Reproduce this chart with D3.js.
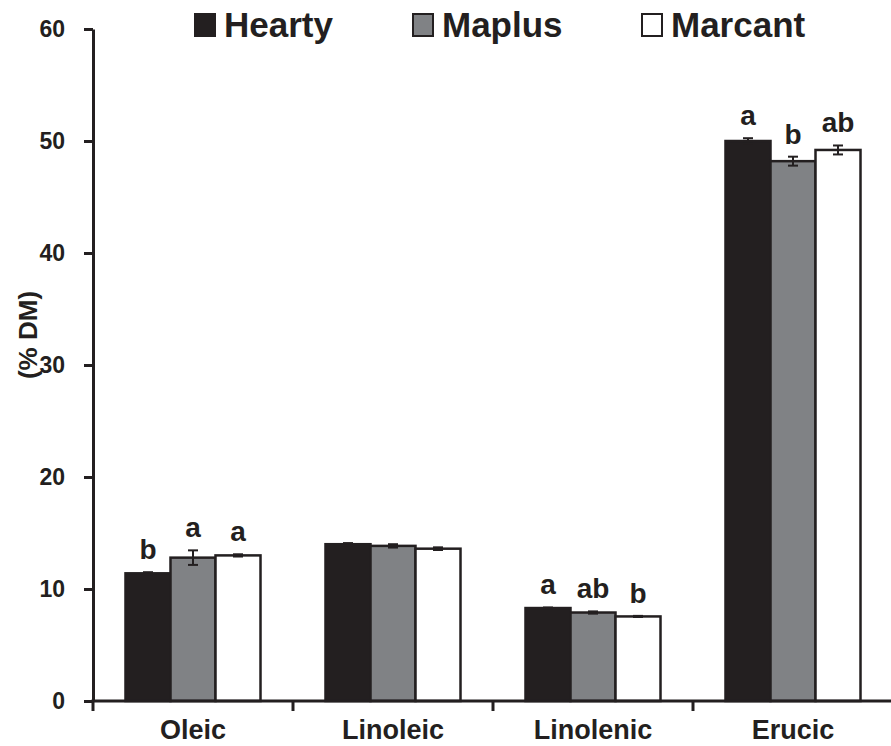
<!DOCTYPE html>
<html>
<head>
<meta charset="utf-8">
<script src="https://cdn.jsdelivr.net/npm/d3@7"></script>
<style>
  html, body { margin: 0; padding: 0; background: #fff; }
  svg { display: block; font-family: "Liberation Sans", Arial, sans-serif; }
</style>
</head>
<body>
<svg id="chart" width="891" height="746"></svg>
<script>
const categories = ["Oleic", "Linoleic", "Linolenic", "Erucic"];
const series = ["Hearty", "Maplus", "Marcant"];
const hearty = [11.4, 14.0, 8.3, 50.0];
const maplus = [12.8, 13.85, 7.9, 48.2];
const marcant = [13.0, 13.6, 7.55, 49.2];
const heartyErr = [0.1, 0.1, 0.05, 0.25];
const maplusErr = [0.65, 0.15, 0.1, 0.4];
const marcantErr = [0.1, 0.12, 0.05, 0.4];
const heartySig = ["b", "", "a", "a"];
const maplusSig = ["a", "", "ab", "b"];
const marcantSig = ["a", "", "b", "ab"];
const yTicks = [0, 10, 20, 30, 40, 50, 60];
const yLabel = "(% DM)";

const ink = "#231f20";
const colors = { Hearty: "#231f20", Maplus: "#808285", Marcant: "#ffffff" };

const values = { Hearty: hearty, Maplus: maplus, Marcant: marcant };
const errs = { Hearty: heartyErr, Maplus: maplusErr, Marcant: marcantErr };
const sigs = { Hearty: heartySig, Maplus: maplusSig, Marcant: marcantSig };

const svg = d3.select("#chart");

const y = d3.scaleLinear().domain([0, 60]).range([701, 29]);
const x0 = d3.scaleBand().domain(categories).range([93, 893]).paddingInner(0).paddingOuter(0);
const x1 = d3.scaleBand().domain(series).range([0, x0.bandwidth()]).paddingInner(0).paddingOuter(0.722);

const rows = [];
categories.forEach((c, i) => {
  series.forEach(s => {
    rows.push({ cat: c, s, v: values[s][i], e: errs[s][i], sig: sigs[s][i] });
  });
});

// Bars
svg.append("g").selectAll("rect").data(rows).join("rect")
  .attr("x", d => x0(d.cat) + x1(d.s))
  .attr("y", d => y(d.v))
  .attr("width", x1.bandwidth())
  .attr("height", d => y(0) - y(d.v))
  .attr("fill", d => colors[d.s])
  .attr("stroke", ink)
  .attr("stroke-width", 2.5);

// Error bars
const eg = svg.append("g").attr("stroke", ink).attr("stroke-width", 2);
rows.forEach(d => {
  const cx = x0(d.cat) + x1(d.s) + x1.bandwidth() / 2;
  const y1 = y(d.v + d.e), y2 = y(d.v - d.e);
  eg.append("line").attr("x1", cx).attr("x2", cx).attr("y1", y1).attr("y2", y2);
  eg.append("line").attr("x1", cx - 5).attr("x2", cx + 5).attr("y1", y1).attr("y2", y1);
  eg.append("line").attr("x1", cx - 5).attr("x2", cx + 5).attr("y1", y2).attr("y2", y2);
});

// Significance letters
svg.append("g").selectAll("text").data(rows.filter(d => d.sig)).join("text")
  .attr("x", d => x0(d.cat) + x1(d.s) + x1.bandwidth() / 2)
  .attr("y", d => y(d.v + d.e) - 13)
  .attr("text-anchor", "middle")
  .attr("font-size", 28)
  .attr("font-weight", "bold")
  .attr("fill", ink)
  .text(d => d.sig);

// Y axis
const yAxis = svg.append("g")
  .attr("transform", "translate(93,0)")
  .call(d3.axisLeft(y).tickValues(yTicks).tickSize(9).tickPadding(19).tickSizeOuter(0));
yAxis.select(".domain").attr("stroke", ink).attr("stroke-width", 3);
yAxis.selectAll(".tick line").attr("stroke", ink).attr("stroke-width", 3);
yAxis.selectAll(".tick text")
  .attr("font-size", 23).attr("font-weight", "bold").attr("fill", ink)
  .attr("font-family", "Liberation Sans, Arial, sans-serif");

// X axis
const xg = svg.append("g").attr("transform", "translate(0,701)");
xg.append("line").attr("x1", 91.5).attr("x2", 891).attr("y1", 0).attr("y2", 0)
  .attr("stroke", ink).attr("stroke-width", 3);
xg.selectAll("line.tk").data(categories).join("line").attr("class", "tk")
  .attr("x1", d => x0(d)).attr("x2", d => x0(d))
  .attr("y1", 0).attr("y2", 10)
  .attr("stroke", ink).attr("stroke-width", 3);
xg.selectAll("text").data(categories).join("text")
  .attr("x", d => x0(d) + x0.bandwidth() / 2)
  .attr("y", 38)
  .attr("text-anchor", "middle")
  .attr("font-size", 27)
  .attr("font-weight", "bold")
  .attr("fill", ink)
  .text(d => d);

// Y label
svg.append("text")
  .attr("transform", "translate(37,335) rotate(-90)")
  .attr("text-anchor", "middle")
  .attr("font-size", 26)
  .attr("font-weight", "bold")
  .attr("fill", ink)
  .text(yLabel);

// Legend
const legendX = [195, 413, 642];
const lg = svg.append("g");
series.forEach((s, i) => {
  lg.append("rect").attr("x", legendX[i]).attr("y", 14).attr("width", 20).attr("height", 22)
    .attr("fill", colors[s]).attr("stroke", ink).attr("stroke-width", 2);
  lg.append("text").attr("x", legendX[i] + 29).attr("y", 37)
    .attr("font-size", 35).attr("font-weight", "bold").attr("fill", ink)
    .text(s);
});
</script>
</body>
</html>
